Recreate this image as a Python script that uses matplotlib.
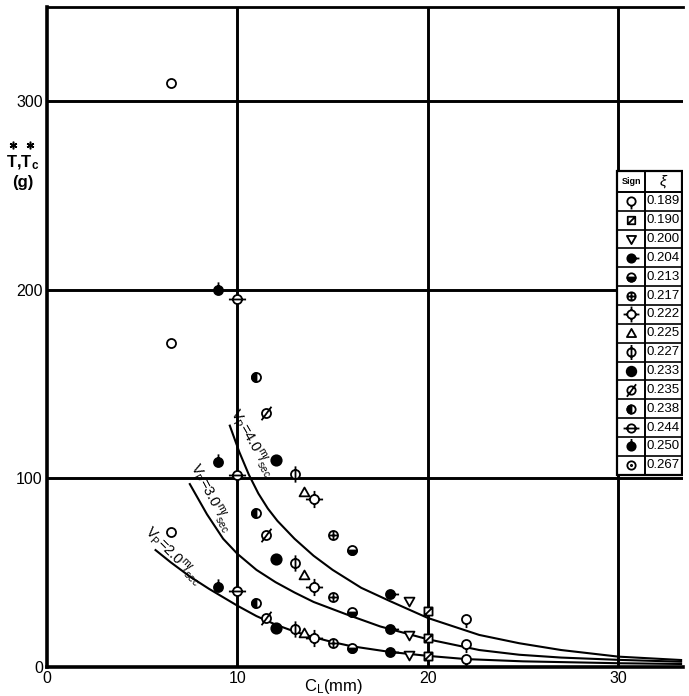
import matplotlib
matplotlib.use("Agg")
import matplotlib.pyplot as plt
from matplotlib.path import Path
from matplotlib.patches import Rectangle

plt.rcParams['font.family'] = ['Liberation Sans', 'DejaVu Sans']
plt.rcParams['mathtext.fontset'] = 'custom'
plt.rcParams['mathtext.rm'] = 'Liberation Sans'
plt.rcParams['mathtext.it'] = 'Liberation Sans:italic'
plt.rcParams['mathtext.bf'] = 'Liberation Sans:bold'

# one sign per density, measured at C_L for three plunger speeds
rho = ["0.189", "0.190", "0.200", "0.204", "0.213", "0.217", "0.222", "0.225",
       "0.227", "0.233", "0.235", "0.238", "0.244", "0.250", "0.267"]
cl = [22, 20, 19, 18, 16, 15, 14, 13.5, 13, 12, 11.5, 11, 10, 9, 6.5]
t_vp20 = [4.2, 6.0, 6.4, 7.8, 9.9, 12.9, 15.3, 18.1, 20.3, 20.5, 25.8, 33.8, 40.3, 42.6, 71.6]
t_vp30 = [12.0, 15.5, 17.0, 20.2, 29.0, 37.0, 42.6, 48.8, 55.4, 57.1, 70.0, 81.9, 101.9, 108.7, 171.7]
t_vp40 = [25.5, 29.7, 35.2, 38.6, 62.0, 70.0, 89.3, 93.0, 102.6, 110.0, 134.6, 154.0, 195.0, 200.0, 309.7]

# faired curves
curve20_x = [5.7, 6.5, 7.5, 8.5, 10, 11, 12, 13, 14, 15, 16, 18, 20, 22, 25, 30, 33.3]
curve20_y = [62, 55.5, 48, 41.5, 32.5, 27, 22.5, 18.8, 15.8, 13.2, 11.0, 8, 5.9, 4.2, 3.0, 2.0, 1.6]
curve30_x = [7.5, 8.4, 9.25, 10, 11, 12, 13, 14, 15.7, 17.5, 20, 22.7, 24.8, 27, 30, 33.3]
curve30_y = [97, 81, 68, 60, 51.5, 45, 39.5, 34.5, 28, 21.5, 14.7, 9, 6.5, 5, 3.8, 2.8]
curve40_x = [9.6, 10.1, 10.6, 11.1, 11.6, 12.1, 13, 14, 15, 16.5, 18, 20, 22.7, 24.8, 27, 30, 33.3]
curve40_y = [128, 114, 102, 92, 84, 77.5, 68, 59, 51.5, 42, 35, 26, 17, 12.6, 9, 5.5, 3.7]

ANCHOR = Path([(2.0, 0.0)], [Path.MOVETO])


def mk(*parts):
    return Path.make_compound_path(ANCHOR, *parts)


def seg(x0, y0, x1, y1):
    return Path([(x0, y0), (x1, y1)], [Path.MOVETO, Path.LINETO])


def poly(pts):
    return Path(pts + [pts[0]], [Path.MOVETO] + [Path.LINETO] * (len(pts) - 1) + [Path.CLOSEPOLY])


C = Path.circle((0, 0), 1.0)
W, B = 'white', 'black'
sq = [(-0.9, -0.9), (0.9, -0.9), (0.9, 0.9), (-0.9, 0.9)]

sign_layers = {
    "0.189": [(mk(C, seg(0, -1, 0, -1.9)), W)],
    "0.190": [(mk(poly(sq), seg(-0.9, -0.9, 0.9, 0.9)), W)],
    "0.200": [(mk(poly([(-1.1, 0.85), (1.1, 0.85), (0, -1.1)])), W)],
    "0.204": [(mk(C, seg(1, 0, 1.9, 0)), B)],
    "0.213": [(mk(C), W), (mk(Path.wedge(180, 360)), B)],
    "0.217": [(mk(C, seg(-1, 0, 1, 0), seg(0, -1, 0, 1)), W)],
    "0.222": [(mk(C, seg(0, 1, 0, 1.9), seg(0, -1, 0, -1.9),
                  seg(1, 0, 1.9, 0), seg(-1, 0, -1.9, 0)), W)],
    "0.225": [(mk(poly([(-1.1, -0.85), (1.1, -0.85), (0, 1.1)])), W)],
    "0.227": [(mk(C, seg(0, -1.8, 0, 1.8)), W)],
    "0.233": [(mk(Path.circle((0, 0), 1.15)), B)],
    "0.235": [(mk(C, seg(-1.1, -1.5, 1.1, 1.5)), W)],
    "0.238": [(mk(C), W), (mk(Path.wedge(90, 270)), B)],
    "0.244": [(mk(C, seg(-1.9, 0, 1.9, 0)), W)],
    "0.250": [(mk(C, seg(0, 1, 0, 1.8)), B)],
    "0.267": [(mk(C), W)],
}
# in the key the last sign carries its centre dot
key_layers = dict(sign_layers)
key_layers["0.267"] = [(mk(C, Path.circle((0, 0), 0.15)), W)]


def draw_sign(ax, xs, ys, layers, size=6.5, z=5):
    for path, face in layers:
        ax.plot(xs, ys, ls='none', marker=path, ms=2 * size, mfc=face,
                mec='black', mew=1.3, zorder=z)


fig = plt.figure(figsize=(6.89, 6.96), dpi=100)
ax = fig.add_axes([47 / 689, 29 / 696, 636 / 689, 660 / 696])
ax.set_xlim(0, 33.4)
ax.set_ylim(0, 350)

for gx in [10, 20, 30]:
    ax.axvline(gx, color='black', lw=2.1, zorder=1)
for gy in [100, 200, 300]:
    ax.axhline(gy, color='black', lw=2.1, zorder=1)

ax.spines['right'].set_visible(False)
ax.spines['left'].set_linewidth(2.6)
ax.spines['bottom'].set_linewidth(2.6)
ax.spines['top'].set_linewidth(2.0)
ax.set_xticks([0, 10, 20, 30])
ax.set_yticks([0, 100, 200, 300])
ax.tick_params(length=0, labelsize=11.5, pad=3)

# faired curves
for cx, cy in [(curve20_x, curve20_y), (curve30_x, curve30_y), (curve40_x, curve40_y)]:
    ax.plot(cx, cy, color='black', lw=1.5, zorder=3)

# measured points
for i, name in enumerate(rho):
    draw_sign(ax, [cl[i]] * 3, [t_vp20[i], t_vp30[i], t_vp40[i]], sign_layers[name])

# curve labels
ax.text(10.75, 119, r"V$_\mathrm{P}$=4.0$^\mathrm{m}\!/_\mathrm{sec}$", rotation=-60,
        rotation_mode='anchor', ha='center', va='center', fontsize=10.5, zorder=4)
ax.text(8.6, 90, r"V$_\mathrm{P}$=3.0$^\mathrm{m}\!/_\mathrm{sec}$", rotation=-62,
        rotation_mode='anchor', ha='center', va='center', fontsize=10.5, zorder=4)
ax.text(6.6, 59, r"V$_\mathrm{P}$=2.0$^\mathrm{m}\!/_\mathrm{sec}$", rotation=-45,
        rotation_mode='anchor', ha='center', va='center', fontsize=10.5, zorder=4)

# sign table
t_left, t_mid, t_right = 29.95, 31.4, 33.33
t_top, t_head, row_h = 263, 252, 10.0
t_bottom = t_head - row_h * len(rho)
ax.add_patch(Rectangle((t_left, t_bottom), t_right - t_left, t_top - t_bottom,
                       facecolor='white', edgecolor='black', lw=1.6, zorder=6))
ax.plot([t_mid, t_mid], [t_bottom, t_top], color='black', lw=1.4, zorder=7)
ax.plot([t_left, t_right], [t_head, t_head], color='black', lw=1.4, zorder=7)
ax.text((t_left + t_mid) / 2, (t_top + t_head) / 2, "Sign", fontsize=6.5,
        fontweight='bold', ha='center', va='center', zorder=8)
ax.text((t_mid + t_right) / 2, (t_top + t_head) / 2, r"$\xi$", fontsize=11,
        ha='center', va='center', zorder=8)
for i, name in enumerate(rho):
    yc = t_head - row_h * (i + 0.5)
    if i > 0:
        ax.plot([t_left, t_right], [yc + row_h / 2] * 2, color='black', lw=1.2, zorder=7)
    draw_sign(ax, [(t_left + t_mid) / 2], [yc], key_layers[name], size=6, z=8)
    ax.text(t_mid + 0.08, yc, name, fontsize=9.5, ha='left', va='center', zorder=8)

# axis titles
ax.text(15.05, -0.03, r"C$_\mathrm{L}$(mm)", transform=ax.get_xaxis_transform(),
        ha='center', va='center', fontsize=12)
fig.text(23 / 689, 1 - 167 / 696, r"T,T$_\mathbf{c}$",
         ha='center', va='baseline', fontsize=12, fontweight='bold')
# asterisks over both T's
ax.plot([13 / 689, 30 / 689], [1 - 145 / 696] * 2, ls='none', marker=(6, 2, 0), ms=5.5,
        mec='black', mew=1.1, transform=fig.transFigure, clip_on=False)
fig.text(23 / 689, 1 - 183 / 696, "(g)", ha='center', va='center', fontsize=12, fontweight='bold')

fig.savefig("out.png", dpi=100)
